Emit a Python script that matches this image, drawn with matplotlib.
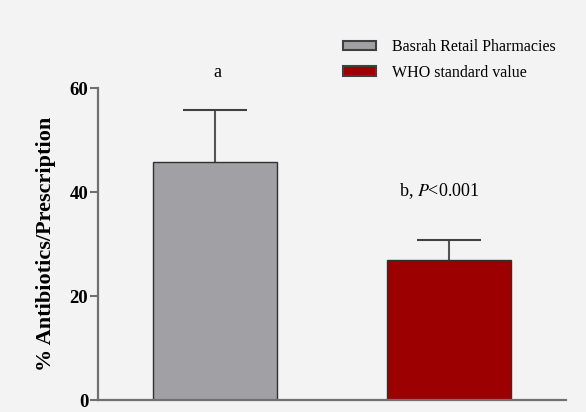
import numpy as np
import matplotlib.pyplot as plt
import matplotlib.patches as mpatches

plt.rcParams['font.family'] = ['Liberation Serif', 'DejaVu Serif']

# datos
grupos = ['Basrah Retail Pharmacies', 'WHO standard value']
valores = np.array([45.8, 26.9])
errores = np.array([10.0, 3.8])
colores = ['#a1a1a5', '#9c0000']
yticks = [0, 20, 40, 60]

fondo = '#f3f3f3'
fig = plt.figure(figsize=(5.86, 4.12), dpi=100, facecolor=fondo)
ax = fig.add_axes([0.167, 0.029, 0.799, 0.757])
ax.set_facecolor(fondo)

x = np.arange(len(valores))
ax.bar(x, valores, width=0.53, color=colores, edgecolor='#303030', linewidth=1.0, zorder=2)
# barras de error solo hacia arriba
ax.vlines(x, valores, valores + errores, color='#555555', linewidth=1.5, zorder=1)
ax.hlines(valores + errores, x - 0.137, x + 0.137, color='#404040', linewidth=1.5, zorder=1)

ax.set_xlim(-0.5, 1.5)
ax.set_ylim(0, 60)
ax.set_yticks(yticks)
ax.set_yticklabels([str(t) for t in yticks], fontweight='bold', fontsize=13.5)
ax.set_xticks([])
for s in ['top', 'right']:
    ax.spines[s].set_visible(False)
for s in ['left', 'bottom']:
    ax.spines[s].set_color('#707070')
    ax.spines[s].set_linewidth(1.6)
ax.tick_params(axis='y', direction='out', length=6, width=1.5, color='#707070', pad=1)
ax.set_ylabel('% Antibiotics/Prescription', fontweight='bold', fontsize=16, labelpad=10)

ax.text(x[0] + 0.01, 63.0, 'a', ha='center', va='center', fontsize=13)
ax.text(x[1] - 0.04, 40.2, 'b, $\\mathit{P}$<0.001', ha='center', va='center', fontsize=13,
        math_fontfamily='stix')

leyenda = [mpatches.Patch(facecolor=colores[i], edgecolor='#404040', linewidth=1.5, label=grupos[i])
           for i in range(2)]
fig.legend(handles=leyenda, loc='upper left', bbox_to_anchor=(0.56, 0.94), frameon=False,
           fontsize=11.5, handlelength=2.1, handleheight=0.5, handletextpad=1.0, labelspacing=0.6)

fig.savefig('out.png', dpi=100, facecolor=fondo)
